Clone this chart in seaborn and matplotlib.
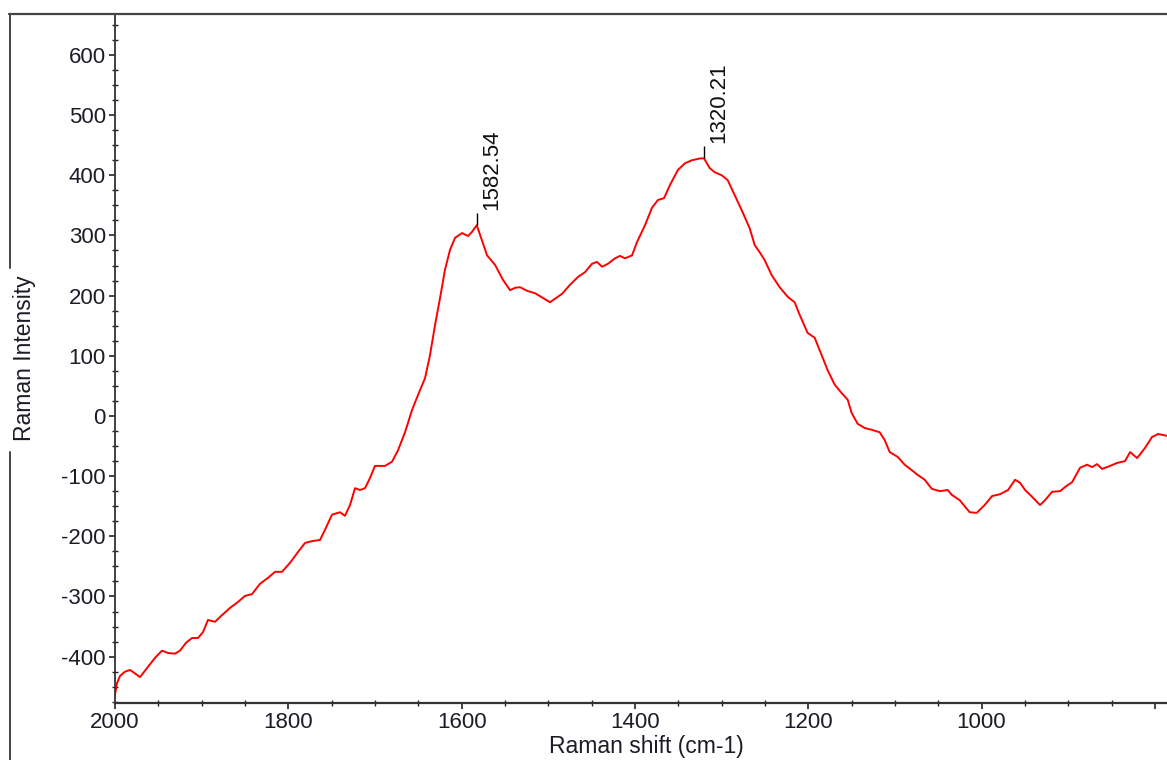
import matplotlib
matplotlib.use("Agg")
import matplotlib.pyplot as plt
import numpy as np
import pandas as pd
import seaborn as sns
from matplotlib.lines import Line2D
from matplotlib.ticker import MultipleLocator

# Raman spectrum
shift_cm = [2000, 1997.7, 1994.2, 1988.5, 1982.7, 1975.8, 1971.1, 1963.1, 1953.8, 1945.8,
            1938.8, 1930.8, 1925.0, 1918.1, 1911.1, 1904.2, 1898.4, 1892.7, 1884.6, 1876.5,
            1867.3, 1858.0, 1850.0, 1841.9, 1832.7, 1823.4, 1815.3, 1807.3, 1798.0, 1788.8,
            1780.7, 1772.6, 1763.4, 1757.6, 1749.6, 1740.3, 1734.6, 1728.8, 1723.0, 1717.3,
            1711.5, 1705.7, 1700.0, 1688.4, 1680.3, 1673.4, 1665.3, 1657.2, 1650.3, 1642.2,
            1636.5, 1630.7, 1624.9, 1619.2, 1613.4, 1607.6, 1599.5, 1592.6, 1588.0, 1582.5,
            1577.6, 1570.7, 1561.4, 1552.2, 1544.1, 1538.4, 1532.6, 1524.5, 1515.3, 1503.8,
            1498.0, 1491.1, 1484.1, 1474.9, 1465.7, 1457.6, 1449.5, 1443.7, 1438.0, 1431.0,
            1423.0, 1417.2, 1411.4, 1403.3, 1397.6, 1388.4, 1380.3, 1373.4, 1366.4, 1359.5,
            1350.3, 1342.2, 1334.1, 1324.9, 1320.2, 1313.7, 1308.0, 1299.9, 1293.0, 1284.9,
            1276.8, 1267.6, 1261.8, 1256.0, 1250.3, 1242.2, 1233.0, 1223.7, 1215.7, 1209.9,
            1200.7, 1192.6, 1184.5, 1177.6, 1169.5, 1161.4, 1154.5, 1149.9, 1143.0, 1134.9,
            1126.8, 1117.6, 1111.8, 1106.0, 1096.8, 1088.7, 1080.6, 1073.7, 1065.6, 1057.5,
            1048.3, 1039.1, 1034.4, 1025.2, 1013.7, 1005.6, 996.4, 987.8, 978.6, 969.4,
            961.3, 955.6, 949.8, 944.0, 932.5, 926.7, 918.6, 909.4, 903.6, 895.5,
            886.3, 878.2, 872.5, 866.7, 860.9, 851.7, 843.6, 834.4, 828.6, 820.5,
            811.3, 803.3, 796.3, 786.0]
intensity = [-463, -444, -432, -425, -422, -429, -434, -419, -402, -390,
             -394, -395, -390, -377, -369, -369, -359, -339, -342, -331,
             -319, -309, -299, -296, -279, -269, -259, -259, -244, -226,
             -211, -208, -206, -189, -164, -160, -166, -148, -120, -123,
             -120, -103, -83, -83, -76, -57, -27, 10, 35, 63,
             101, 151, 196, 243, 276, 296, 304, 299, 306, 317,
             296, 267, 251, 226, 209, 213, 214, 208, 204, 194,
             189, 196, 203, 218, 231, 239, 253, 256, 248, 253,
             262, 266, 262, 267, 289, 317, 346, 359, 362, 384,
             409, 420, 425, 428, 428, 412, 405, 400, 392, 367,
             342, 312, 284, 272, 259, 234, 214, 198, 189, 168,
             138, 130, 101, 76, 52, 38, 27, 5, -13, -20,
             -23, -27, -40, -60, -68, -81, -90, -98, -106, -121,
             -125, -123, -131, -140, -160, -161, -148, -133, -130, -123,
             -106, -111, -123, -131, -148, -140, -126, -125, -118, -110,
             -86, -81, -85, -80, -88, -83, -78, -75, -60, -70,
             -53, -35, -30, -33]

peak_pos = [1582.54, 1320.21]
peak_height = [317, 428]
peak_labels = ["1582.54", "1320.21"]

y_ticks = [-400, -300, -200, -100, 0, 100, 200, 300, 400, 500, 600]
x_ticks = [2000, 1800, 1600, 1400, 1200, 1000, 800]
x_ticklabels = ["2000", "1800", "1600", "1400", "1200", "1000", ""]

df = pd.DataFrame({"shift": shift_cm, "intensity": intensity})

sns.set_style("ticks")
plt.rcParams["font.family"] = ["Liberation Sans", "DejaVu Sans"]
plt.rcParams["axes.unicode_minus"] = False

W, H = 1167, 760
fig = plt.figure(figsize=(W / 100, H / 100), dpi=100)
ax = fig.add_axes([115 / W, 57 / H, (W - 115) / W, (703 - 14) / H])

sns.lineplot(data=df, x="shift", y="intensity", color="#ff0000", lw=1.4,
             sort=False, ax=ax, legend=False)

# peak markers
ax.vlines(peak_pos, peak_height, np.array(peak_height) + 20, color="black", lw=1)
for pos, h, lab in zip(peak_pos, peak_height, peak_labels):
    ax.annotate(lab, xy=(pos, h), xytext=(10.5, 11), textcoords="offset points",
                rotation=90, ha="center", va="bottom", fontsize=16, color="#111111")

ax.set_xlim(2000, 786)
ax.set_ylim(-477, 668)
ax.set_xticks(x_ticks, labels=x_ticklabels)
ax.set_yticks(y_ticks)
ax.xaxis.set_minor_locator(MultipleLocator(50))
ax.yaxis.set_minor_locator(MultipleLocator(25))
ax.tick_params(which="major", direction="out", length=4.5, width=1.2,
               labelsize=16, labelcolor="#1c1c28", color="#222222", pad=2)
ax.tick_params(which="minor", direction="inout", length=4, width=1.0, color="#222222")

for side in ["top", "right"]:
    ax.spines[side].set_visible(False)
ax.spines["left"].set_color("#333333")
ax.spines["left"].set_linewidth(1.3)
ax.spines["bottom"].set_color("#333333")
ax.spines["bottom"].set_linewidth(1.6)

ax.set_xlabel("Raman shift (cm-1)", fontsize=16.5, color="#1c1c28")
ax.set_ylabel("Raman Intensity", fontsize=16.5, color="#1c1c28")
ax.xaxis.set_label_coords(0.505, -0.047)
ax.yaxis.set_label_coords(-0.075, 0.5)

# outer frame around the plot (top + broken left edge)
fig.add_artist(Line2D([9 / W, 1], [1 - 14 / H, 1 - 14 / H], color="#444444", lw=1.6))
fig.add_artist(Line2D([10 / W, 10 / W], [1 - 14 / H, 1 - 268 / H], color="#444444", lw=1.4))
fig.add_artist(Line2D([10 / W, 10 / W], [1 - 452 / H, 0], color="#444444", lw=1.4))

fig.savefig("out.png", dpi=100)
